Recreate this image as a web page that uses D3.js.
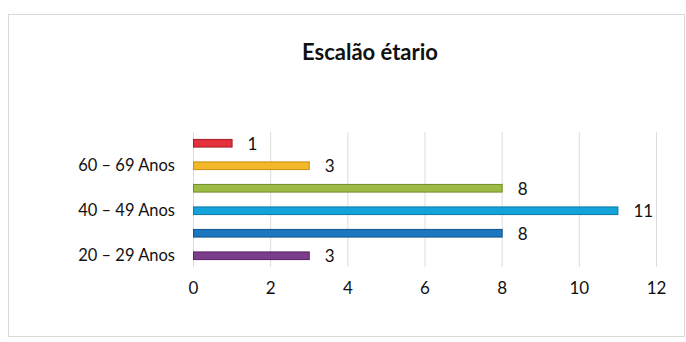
<!DOCTYPE html>
<html><head><meta charset="utf-8">
<script src="https://cdn.jsdelivr.net/npm/d3@7"></script>
<style>
html,body{margin:0;padding:0;background:#fff;}
svg{display:block;font-family:Lato,"Open Sans",sans-serif;}
</style></head>
<body>
<svg id="chart" width="686" height="342"></svg>
<script>
const categories = ["70 + Anos","60 – 69 Anos","50 – 59 Anos","40 – 49 Anos","30 – 39 Anos","20 – 29 Anos"];
const values = [1,3,8,11,8,3];
const shownLabels = ["60 – 69 Anos","40 – 49 Anos","20 – 29 Anos"];
const xTicks = [0,2,4,6,8,10,12];
const colors = ["#e4323d","#f3b829","#9cbb44","#14a3d9","#1b78be","#7d3d8d"];
const strokes = ["#a51c25","#c88f10","#6f8d25","#0d7aa6","#0f5590","#54245f"];
const title = "Escalão étario";

const svg = d3.select("#chart");
// frame
svg.append("rect").attr("x",8.5).attr("y",14.5).attr("width",676).attr("height",322)
  .attr("fill","#fff").attr("stroke","#d9d9d9").attr("stroke-width",1);

const m = {left:193, right:656, top:132, bottom:267};
const x = d3.scaleLinear().domain([0,12]).range([m.left,m.right]);
const y = d3.scaleBand().domain(categories).range([m.top,m.bottom]).paddingInner(0.66).paddingOuter(0.33);

// gridlines
svg.append("g").selectAll("line").data(xTicks).join("line")
  .attr("x1",d=>x(d)+0.5).attr("x2",d=>x(d)+0.5)
  .attr("y1",m.top).attr("y2",m.bottom)
  .attr("stroke","#dcdcdc").attr("stroke-width",1);

// x axis
const xa = svg.append("g").attr("transform",`translate(0,${m.bottom})`)
  .call(d3.axisBottom(x).tickValues(xTicks).tickSize(0).tickPadding(15));
xa.select(".domain").remove();
xa.selectAll("text").attr("font-size",17).attr("fill","#111").attr("font-family","Lato,sans-serif");

// y axis
const ya = svg.append("g").attr("transform",`translate(${m.left},0)`)
  .call(d3.axisLeft(y).tickSize(0).tickPadding(18).tickFormat(d=>shownLabels.includes(d)?d:""));
ya.select(".domain").remove();
ya.selectAll("text").attr("font-size",16.5).attr("fill","#111").attr("font-family","Lato,sans-serif");

// bars
svg.append("g").selectAll("rect").data(values).join("rect")
  .attr("x",x(0)+0.5)
  .attr("y",(d,i)=>y(categories[i]))
  .attr("width",d=>x(d)-x(0))
  .attr("height",y.bandwidth())
  .attr("fill",(d,i)=>colors[i])
  .attr("stroke",(d,i)=>strokes[i]).attr("stroke-width",1);

// value labels
svg.append("g").selectAll("text").data(values).join("text")
  .attr("x",d=>x(d)+16)
  .attr("y",(d,i)=>y(categories[i])+y.bandwidth()/2+2)
  .attr("dominant-baseline","middle")
  .attr("font-size",17).attr("fill","#111")
  .text(d=>d);

// title
svg.append("text").attr("x",370).attr("y",60).attr("text-anchor","middle")
  .attr("font-size",22).attr("font-weight","bold").attr("fill","#111").text(title);
</script>
</body></html>
